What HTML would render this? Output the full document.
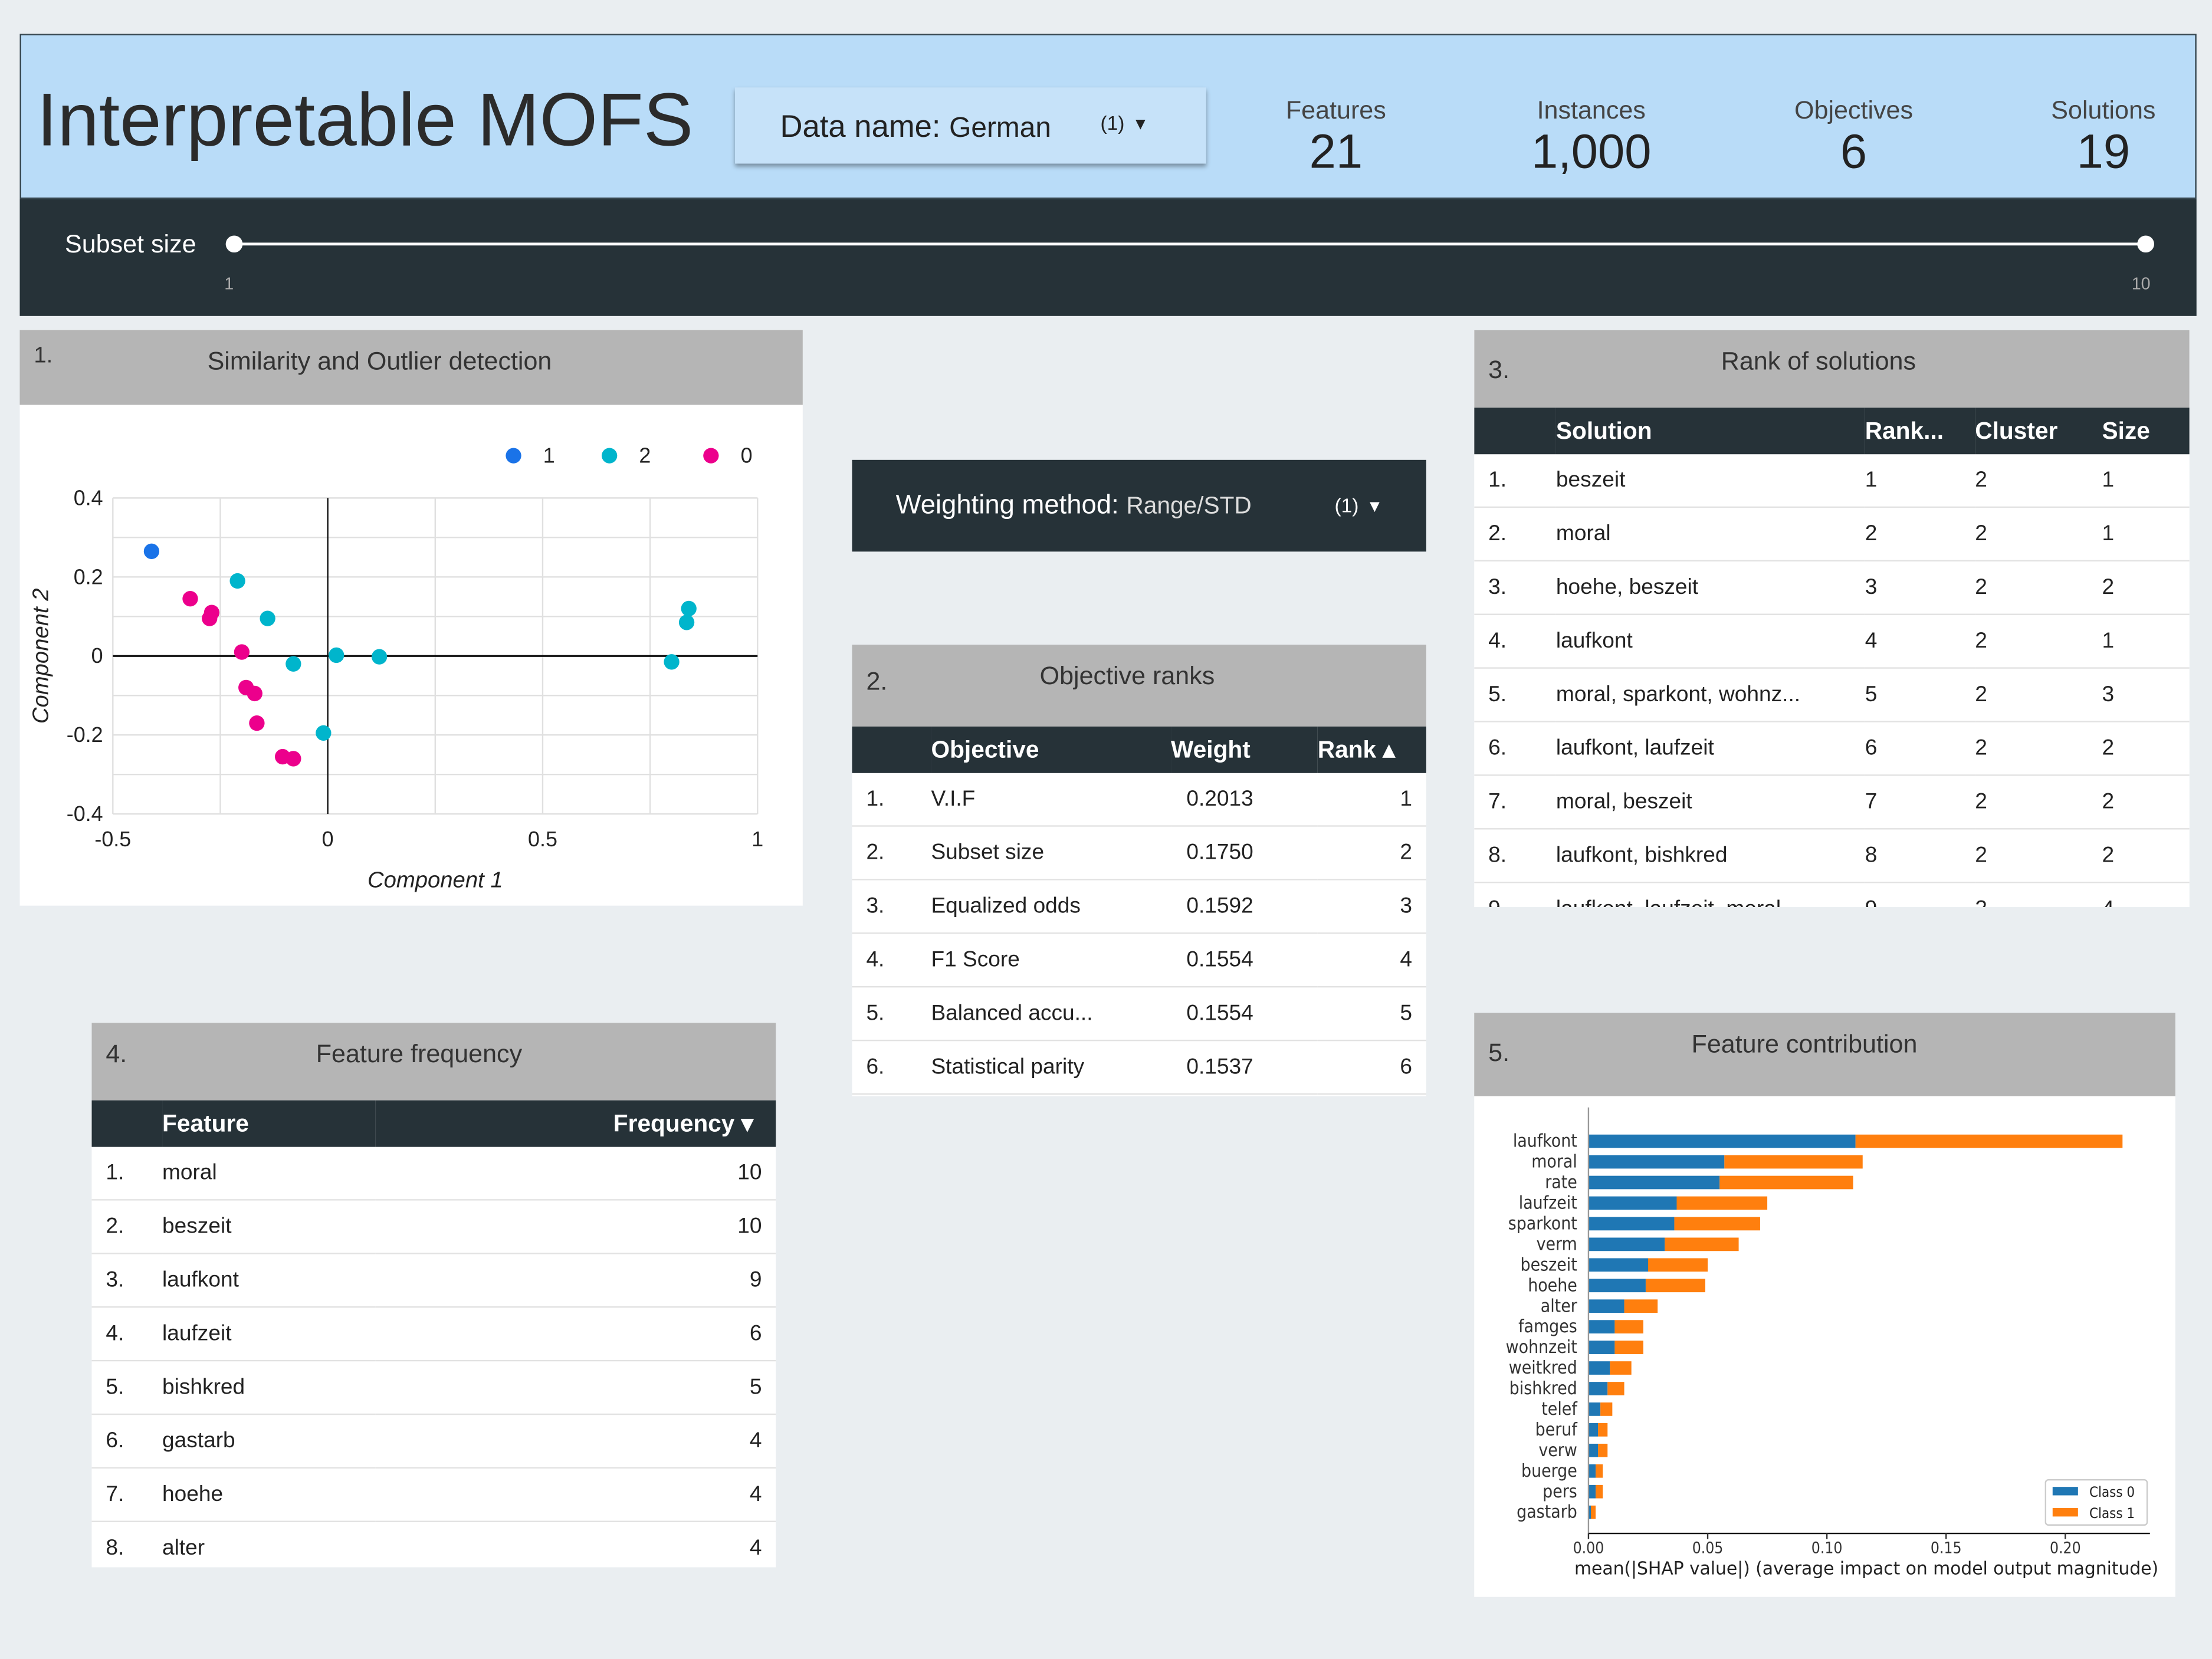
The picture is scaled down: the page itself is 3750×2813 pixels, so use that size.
<!DOCTYPE html>
<html><head><meta charset="utf-8">
<style>
html,body{margin:0;padding:0;}
body{width:3750px;height:2813px;overflow:hidden;background:#eaeef1;font-family:"Liberation Sans",sans-serif;}
#root{position:absolute;left:0;top:0;width:1568px;height:1176px;transform:scale(2.3916,2.392);transform-origin:0 0;background:#eaeef1;color:#222;}
.abs{position:absolute;}
.hdr{background:#b5b5b5;color:#333;font-size:18px;}
.dark{background:#263238;color:#fff;}
table{border-collapse:collapse;width:100%;font-size:15.5px;}
td,th{height:37px;padding:0;border-bottom:1px solid #e2e2e2;}
th{height:33px;background:#263238;color:#fff;font-weight:bold;font-size:17px;text-align:left;border-bottom:none;}
.r{text-align:right;}
</style></head><body>
<div id="root">

<div class="abs" style="left:14px;top:24px;width:1543px;height:117px;background:#b9dcf8;border:1px solid #37474f;box-sizing:border-box;">
  <div class="abs" style="left:11px;top:30px;font-size:53px;color:#2b2b2b;">Interpretable MOFS</div>
  <div class="abs" style="left:506px;top:37px;width:334px;height:54px;background:#c6e2f9;box-shadow:0 2px 3px rgba(0,0,0,.35);font-size:22px;">
    <span class="abs" style="left:32px;top:15px;">Data name: <span style="font-size:20px">German</span></span>
    <span class="abs" style="left:259px;top:17px;font-size:14px;">(1) &nbsp;▾</span>
  </div>
  <div class="abs" style="left:880px;top:43px;width:104px;text-align:center;"><div style="font-size:18px;color:#444">Features</div><div style="font-size:34px;">21</div></div>
  <div class="abs" style="left:1058px;top:43px;width:110px;text-align:center;"><div style="font-size:18px;color:#444">Instances</div><div style="font-size:34px;">1,000</div></div>
  <div class="abs" style="left:1244px;top:43px;width:110px;text-align:center;"><div style="font-size:18px;color:#444">Objectives</div><div style="font-size:34px;">6</div></div>
  <div class="abs" style="left:1426px;top:43px;width:100px;text-align:center;"><div style="font-size:18px;color:#444">Solutions</div><div style="font-size:34px;">19</div></div>
</div>

<div class="abs dark" style="left:14px;top:141px;width:1543px;height:83px;">
  <div class="abs" style="left:32px;top:22px;font-size:18px;">Subset size</div>
  <div class="abs" style="left:152px;top:31px;width:1355px;height:2px;background:#fff;"></div>
  <div class="abs" style="left:146px;top:26px;width:12px;height:12px;border-radius:6px;background:#fff;"></div>
  <div class="abs" style="left:1501px;top:26px;width:12px;height:12px;border-radius:6px;background:#fff;"></div>
  <div class="abs" style="left:145px;top:53px;font-size:12px;color:#aaa;">1</div>
  <div class="abs" style="left:1497px;top:53px;font-size:12px;color:#aaa;">10</div>
</div>

<!-- panel 1 -->
<div class="abs" style="left:14px;top:234px;width:555px;height:408px;background:#fff;">
  <div class="abs hdr" style="left:0;top:0;width:555px;height:53px;">
    <span class="abs" style="left:10px;top:10px;font-size:16px;">1.</span>
    <span class="abs" style="left:133px;top:12px;">Similarity and Outlier detection</span>
  </div>
  <svg class="abs" style="left:0;top:53px" width="555" height="355" id="scatter"></svg>
</div>

<!-- weighting -->
<div class="abs dark" style="left:604px;top:326px;width:407px;height:65px;font-size:19px;">
  <span class="abs" style="left:31px;top:22px;">Weighting method: <span style="font-size:17px;color:#ddd">Range/STD</span></span>
  <span class="abs" style="left:342px;top:24px;font-size:14px;">(1) &nbsp;▾</span>
</div>

<!-- panel 2 -->
<div class="abs" style="left:604px;top:457px;width:407px;height:320px;background:#fff;">
  <div class="abs hdr" style="left:0;top:0;width:407px;height:58px;">
    <span class="abs" style="left:10px;top:16px;">2.</span><span class="abs" style="left:133px;top:12px;">Objective ranks</span>
  </div>
  <div class="abs" style="left:0;top:58px;width:407px;">
  <table>
   <tr><th style="width:56px"></th><th style="width:170px">Objective</th><th style="width:104px">Weight</th><th>Rank ▴</th></tr>
   <tr><td style="padding-left:10px">1.</td><td>V.I.F</td><td style="padding-left:11px">0.2013</td><td class="r" style="padding-right:10px">1</td></tr>
   <tr><td style="padding-left:10px">2.</td><td>Subset size</td><td style="padding-left:11px">0.1750</td><td class="r" style="padding-right:10px">2</td></tr>
   <tr><td style="padding-left:10px">3.</td><td>Equalized odds</td><td style="padding-left:11px">0.1592</td><td class="r" style="padding-right:10px">3</td></tr>
   <tr><td style="padding-left:10px">4.</td><td>F1 Score</td><td style="padding-left:11px">0.1554</td><td class="r" style="padding-right:10px">4</td></tr>
   <tr><td style="padding-left:10px">5.</td><td>Balanced accu...</td><td style="padding-left:11px">0.1554</td><td class="r" style="padding-right:10px">5</td></tr>
   <tr><td style="padding-left:10px">6.</td><td>Statistical parity</td><td style="padding-left:11px">0.1537</td><td class="r" style="padding-right:10px">6</td></tr>
  </table></div>
</div>

<!-- panel 3 -->
<div class="abs" style="left:1045px;top:234px;width:507px;height:409px;background:#fff;overflow:hidden;">
  <div class="abs hdr" style="left:0;top:0;width:507px;height:55px;">
    <span class="abs" style="left:10px;top:18px;">3.</span><span class="abs" style="left:175px;top:12px;">Rank of solutions</span>
  </div>
  <div class="abs" style="left:0;top:55px;width:507px;">
  <table>
   <tr><th style="width:58px"></th><th>Solution</th><th style="width:78px">Rank...</th><th style="width:90px">Cluster</th><th style="width:62px">Size</th></tr>
   <tr><td style="padding-left:10px">1.</td><td>beszeit</td><td>1</td><td>2</td><td>1</td></tr>
   <tr><td style="padding-left:10px">2.</td><td>moral</td><td>2</td><td>2</td><td>1</td></tr>
   <tr><td style="padding-left:10px">3.</td><td>hoehe, beszeit</td><td>3</td><td>2</td><td>2</td></tr>
   <tr><td style="padding-left:10px">4.</td><td>laufkont</td><td>4</td><td>2</td><td>1</td></tr>
   <tr><td style="padding-left:10px">5.</td><td>moral, sparkont, wohnz...</td><td>5</td><td>2</td><td>3</td></tr>
   <tr><td style="padding-left:10px">6.</td><td>laufkont, laufzeit</td><td>6</td><td>2</td><td>2</td></tr>
   <tr><td style="padding-left:10px">7.</td><td>moral, beszeit</td><td>7</td><td>2</td><td>2</td></tr>
   <tr><td style="padding-left:10px">8.</td><td>laufkont, bishkred</td><td>8</td><td>2</td><td>2</td></tr>
   <tr><td style="padding-left:10px">9.</td><td>laufkont, laufzeit, moral</td><td>9</td><td>2</td><td>4</td></tr>
  </table></div>
</div>

<!-- panel 4 -->
<div class="abs" style="left:65px;top:725px;width:485px;height:386px;background:#fff;overflow:hidden;">
  <div class="abs hdr" style="left:0;top:0;width:485px;height:55px;">
    <span class="abs" style="left:10px;top:12px;">4.</span><span class="abs" style="left:159px;top:12px;">Feature frequency</span>
  </div>
  <div class="abs" style="left:0;top:55px;width:485px;">
  <table>
   <tr><th style="width:50px"></th><th>Feature</th><th class="r" style="padding-right:16px">Frequency ▾</th></tr>
   <tr><td style="padding-left:10px">1.</td><td>moral</td><td class="r" style="padding-right:10px">10</td></tr>
   <tr><td style="padding-left:10px">2.</td><td>beszeit</td><td class="r" style="padding-right:10px">10</td></tr>
   <tr><td style="padding-left:10px">3.</td><td>laufkont</td><td class="r" style="padding-right:10px">9</td></tr>
   <tr><td style="padding-left:10px">4.</td><td>laufzeit</td><td class="r" style="padding-right:10px">6</td></tr>
   <tr><td style="padding-left:10px">5.</td><td>bishkred</td><td class="r" style="padding-right:10px">5</td></tr>
   <tr><td style="padding-left:10px">6.</td><td>gastarb</td><td class="r" style="padding-right:10px">4</td></tr>
   <tr><td style="padding-left:10px">7.</td><td>hoehe</td><td class="r" style="padding-right:10px">4</td></tr>
   <tr><td style="padding-left:10px">8.</td><td>alter</td><td class="r" style="padding-right:10px">4</td></tr>
  </table></div>
</div>

<!-- panel 5 -->
<div class="abs" style="left:1045px;top:718px;width:497px;height:414px;background:#fff;">
  <div class="abs hdr" style="left:0;top:0;width:497px;height:59px;">
    <span class="abs" style="left:10px;top:18px;">5.</span><span class="abs" style="left:154px;top:12px;">Feature contribution</span>
  </div>
  <svg class="abs" style="left:0;top:59px" width="497" height="355" id="shap"></svg>
</div>

</div>
<script>
const NS='http://www.w3.org/2000/svg';
function mk(p,t,a){const e=document.createElementNS(NS,t);for(const k in a)e.setAttribute(k,a[k]);p.appendChild(e);return e;}

// scatter data
const clusterNames=['1','2','0'];
const clusterColors=['#1a73e8','#00b5cc','#ec008c'];
const c1x=[-0.41];
const c1y=[0.265];
const c2x=[-0.21,-0.14,-0.08,0.02,0.12,-0.01,0.84,0.835,0.80];
const c2y=[0.19,0.095,-0.02,0.002,-0.002,-0.195,0.12,0.085,-0.015];
const c0x=[-0.32,-0.27,-0.275,-0.2,-0.19,-0.17,-0.165,-0.105,-0.08];
const c0y=[0.145,0.11,0.095,0.01,-0.08,-0.095,-0.17,-0.255,-0.26];
const xTicks=[-0.5,0,0.5,1];
const xTickLabels=['-0.5','0','0.5','1'];
const yTicks=[0.4,0.2,0,-0.2,-0.4];
const yTickLabels=['0.4','0.2','0','-0.2','-0.4'];

// shap data
const features=['laufkont','moral','rate','laufzeit','sparkont','verm','beszeit','hoehe','alter','famges','wohnzeit','weitkred','bishkred','telef','beruf','verw','buerge','pers','gastarb'];
const class0=[0.112,0.057,0.055,0.037,0.036,0.032,0.025,0.024,0.015,0.011,0.011,0.009,0.008,0.005,0.004,0.004,0.003,0.003,0.001];
const class1=[0.112,0.058,0.056,0.038,0.036,0.031,0.025,0.025,0.014,0.012,0.012,0.009,0.007,0.005,0.004,0.004,0.003,0.003,0.002];
const shapTicks=[0,0.05,0.10,0.15,0.20];
const shapTickLabels=['0.00','0.05','0.10','0.15','0.20'];

(function(){
 const s=document.getElementById('scatter');
 const X=v=>(80-14)+(v+0.5)/1.5*(537-80);
 const Y=v=>(353-287)+(0.4-v)/0.8*(577-353);
 for(let g=-0.5;g<=1.001;g+=0.25){const l=mk(s,'line',{x1:X(g),x2:X(g),y1:Y(0.4),y2:Y(-0.4),stroke:'#e0e0e0','stroke-width':1});
  
  }
 for(let g=-0.4;g<=0.401;g+=0.1){const l=mk(s,'line',{x1:X(-0.5),x2:X(1),y1:Y(g),y2:Y(g),stroke:'#e0e0e0','stroke-width':1});
  
  }
 mk(s,'line',{x1:X(-0.5),x2:X(1),y1:Y(0),y2:Y(0),stroke:'#111','stroke-width':1.3});
 mk(s,'line',{x1:X(0),x2:X(0),y1:Y(0.4),y2:Y(-0.4),stroke:'#111','stroke-width':1});
 xTicks.forEach((v,i)=>{const t=mk(s,'text',{x:X(v),y:Y(-0.4)+23,'text-anchor':'middle','font-size':15,fill:'#222'});t.textContent=xTickLabels[i];
  
  });
 yTicks.forEach((v,i)=>{const t=mk(s,'text',{x:X(-0.5)-7,y:Y(v)+5,'text-anchor':'end','font-size':15,fill:'#222'});t.textContent=yTickLabels[i];
  
  });
 let t=mk(s,'text',{x:X(0.25),y:Y(-0.4)+52,'text-anchor':'middle','font-size':16,'font-style':'italic',fill:'#222'});t.textContent='Component 1';
 
 
 t=mk(s,'text',{x:0,y:0,'text-anchor':'middle','font-size':16,'font-style':'italic',fill:'#222',transform:`translate(20,${Y(0)}) rotate(-90)`});t.textContent='Component 2';
 
 
 const sets=[[c1x,c1y],[c2x,c2y],[c0x,c0y]];
 sets.forEach((st,k)=>{st[0].forEach((xv,i)=>{const c=mk(s,'circle',{cx:X(xv),cy:Y(st[1][i]),r:5.5,fill:clusterColors[k]});
  
  });});
 const lx=[350,418,490];
 clusterNames.forEach((n,k)=>{const c=mk(s,'circle',{cx:lx[k],cy:36,r:5.5,fill:clusterColors[k]});
  
  
  const tt=mk(s,'text',{x:lx[k]+21,y:41,'font-size':15,fill:'#222'});tt.textContent=n;
  
  });
})();

(function(){
 const s=document.getElementById('shap');
 const X=v=>(1126-1045)+v*1690;
 const rowY=i=>(809-777)+i*14.61;
 const bh=9.5;
 features.forEach((f,i)=>{
  const y=rowY(i);
  const b0=mk(s,'rect',{x:X(0),y:y-bh/2,width:X(class0[i])-X(0),height:bh,fill:'#1f77b4'});
  
  
  const b1=mk(s,'rect',{x:X(class0[i]),y:y-bh/2,width:X(class0[i]+class1[i])-X(class0[i]),height:bh,fill:'#ff7f0e'});
  
  
  const t=mk(s,'text',{x:X(0)-8,y:y+4,'text-anchor':'end','font-size':12.5,fill:'#333','font-family':'DejaVu Sans Condensed, Liberation Sans Narrow, sans-serif'});t.textContent=f;
  
  
 });
 mk(s,'line',{x1:X(0),x2:X(0),y1:8,y2:310,stroke:'#999','stroke-width':1});
 mk(s,'line',{x1:X(0),x2:X(0.2355),y1:310,y2:310,stroke:'#111','stroke-width':1});
 shapTicks.forEach((v,i)=>{mk(s,'line',{x1:X(v),x2:X(v),y1:310,y2:314,stroke:'#333'});
  const t=mk(s,'text',{x:X(v),y:324,'text-anchor':'middle','font-size':11,fill:'#333','font-family':'DejaVu Sans Condensed, sans-serif'});t.textContent=shapTickLabels[i];
  
  });
 const t=mk(s,'text',{x:X(0)-10,y:339,'font-size':12.5,fill:'#222','font-family':'DejaVu Sans, sans-serif',textLength:414});t.textContent='mean(|SHAP value|) (average impact on model output magnitude)';
 
 
 const lg=mk(s,'rect',{x:405,y:272,width:72,height:32,fill:'#fff',stroke:'#ccc',rx:2});
 
 
 [['#1f77b4','Class 0',277],['#ff7f0e','Class 1',292]].forEach(a=>{mk(s,'rect',{x:410,y:a[2],width:18,height:6,fill:a[0]});
  const tt=mk(s,'text',{x:436,y:a[2]+7,'font-size':10,fill:'#222','font-family':'DejaVu Sans Condensed, sans-serif'});tt.textContent=a[1];
  
  });
})();
</script>
</body></html>
